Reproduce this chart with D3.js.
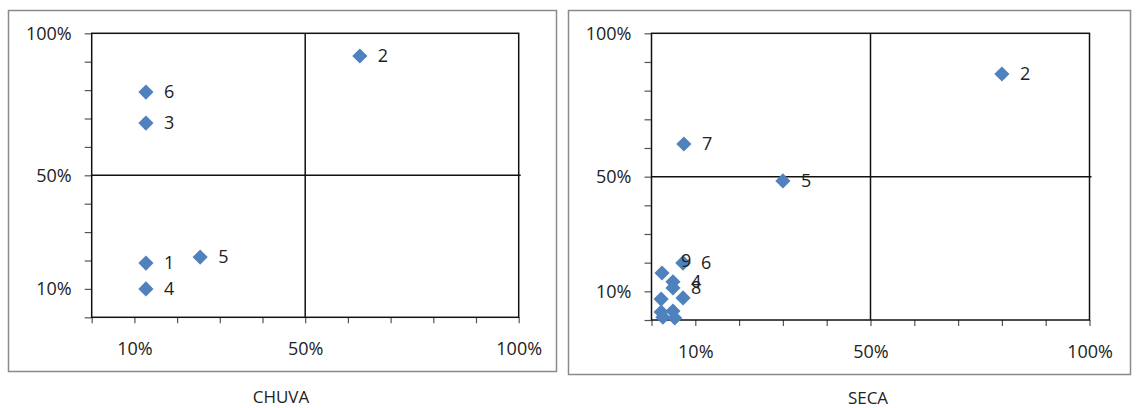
<!DOCTYPE html>
<html>
<head>
<meta charset="utf-8">
<script src="https://cdn.jsdelivr.net/npm/d3@7"></script>
<style>
  html, body { margin: 0; padding: 0; background: #fff; }
  svg { display: block; }
  text { font-family: "Open Sans", "Liberation Sans", sans-serif; fill: #222; }
</style>
</head>
<body>
<svg id="chart" width="1136" height="408"></svg>
<script>
// ---- data ----
const tickValues = [0.1, 0.5, 1.0];
const tickLabels = ["10%", "50%", "100%"];

const chuvaTitle = "CHUVA";
const chuvaNames = ["1", "2", "3", "4", "5", "6"];
const chuvaX = [0.127, 0.628, 0.127, 0.127, 0.254, 0.127];
const chuvaY = [0.191, 0.920, 0.684, 0.100, 0.212, 0.793];

const secaTitle = "SECA";
const secaNames = ["2", "7", "5", "6", "9", "4", "8", "", "", "", "", "", "", ""];
const secaX = [0.800, 0.074, 0.300, 0.072, 0.072, 0.049, 0.049, 0.024, 0.072, 0.022, 0.022, 0.049, 0.026, 0.053];
const secaY = [0.858, 0.614, 0.485, 0.199, 0.199, 0.133, 0.112, 0.164, 0.077, 0.073, 0.028, 0.031, 0.010, 0.007];

// labels drawn on top of the marker instead of to its right
const centeredLabels = ["9"];

const svg = d3.select("#chart");
const markerColor = "#4F81BD";

function drawChart(opt, names, xs, ys, title) {
  const g = svg.append("g");
  g.append("rect")
    .attr("x", opt.box[0]).attr("y", opt.box[1])
    .attr("width", opt.box[2]).attr("height", opt.box[3])
    .attr("fill", "#fff").attr("stroke", "#8a8a8a").attr("stroke-width", 1.5);

  const x = d3.scaleLinear().domain([0, 1]).range([opt.left, opt.right]);
  const y = d3.scaleLinear().domain([0, 1]).range([opt.bottom, opt.top]);
  const allTicks = d3.range(0, 11).map(i => i / 10);
  const fmt = d => {
    const i = tickValues.findIndex(t => Math.abs(t - d) < 1e-6);
    return i >= 0 ? tickLabels[i] : "";
  };

  const ya = g.append("g").attr("transform", `translate(${opt.left},0)`)
    .call(d3.axisLeft(y).tickValues(allTicks).tickFormat(fmt).tickSize(7).tickPadding(13));
  const xa = g.append("g").attr("transform", `translate(0,${opt.bottom})`)
    .call(d3.axisBottom(x).tickValues(allTicks).tickFormat(fmt).tickSize(6).tickPadding(19));
  [ya, xa].forEach(a => {
    a.select(".domain").remove();
    a.selectAll(".tick line").attr("stroke", "#555").attr("stroke-width", 1.2);
    a.selectAll(".tick text").style("font-size", "18px").attr("fill", "#222");
  });

  // plot frame and quadrant lines
  g.append("rect")
    .attr("x", opt.left).attr("y", opt.top)
    .attr("width", opt.right - opt.left).attr("height", opt.bottom - opt.top)
    .attr("fill", "none").attr("stroke", "#111").attr("stroke-width", 1.5);
  g.append("line")
    .attr("x1", x(0.5)).attr("x2", x(0.5)).attr("y1", y(1)).attr("y2", y(0))
    .attr("stroke", "#111").attr("stroke-width", 1.5);
  g.append("line")
    .attr("x1", x(0)).attr("x2", x(1) + 2).attr("y1", y(0.5)).attr("y2", y(0.5))
    .attr("stroke", "#111").attr("stroke-width", 1.5);

  const pts = names.map((n, i) => ({ n, x: xs[i], y: ys[i] }));
  const sym = d3.symbol().type(d3.symbolSquare).size(115);
  g.append("g").selectAll("path").data(pts).join("path")
    .attr("d", sym)
    .attr("transform", d => `translate(${x(d.x)},${y(d.y)}) rotate(45)`)
    .attr("fill", markerColor);

  g.append("g").selectAll("text").data(pts.filter(d => d.n !== "")).join("text")
    .attr("x", d => centeredLabels.includes(d.n) ? x(d.x) + 3 : x(d.x) + 18)
    .attr("y", d => centeredLabels.includes(d.n) ? y(d.y) - 2 : y(d.y))
    .attr("dy", "0.35em")
    .attr("text-anchor", d => centeredLabels.includes(d.n) ? "middle" : "start")
    .style("font-size", "18px")
    .text(d => d.n);

  g.append("text")
    .attr("x", opt.titleX).attr("y", opt.titleY)
    .attr("text-anchor", "middle")
    .style("font-size", "17px")
    .text(title);
}

drawChart({ box: [8.5, 10.5, 548, 361], left: 91.7, right: 518.7, top: 33.3, bottom: 317.3, titleX: 281, titleY: 403 },
  chuvaNames, chuvaX, chuvaY, chuvaTitle);
drawChart({ box: [568.5, 10.5, 562, 364], left: 651.5, right: 1089.5, top: 33.3, bottom: 320, titleX: 868, titleY: 404 },
  secaNames, secaX, secaY, secaTitle);
</script>
</body>
</html>
